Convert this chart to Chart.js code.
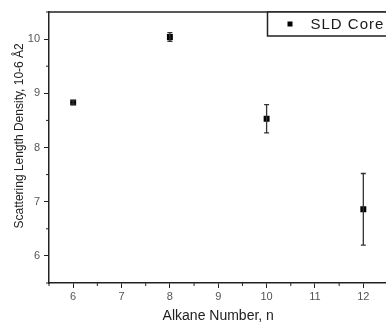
<!DOCTYPE html>
<html>
<head>
  <meta charset="UTF-8">
  <title>SLD Core</title>
  <script src="https://cdn.jsdelivr.net/npm/chart.js"></script>
  <style>
    html, body { margin: 0; padding: 0; background: #fff; overflow: hidden; }
    #wrap { width: 386px; height: 324px; overflow: hidden; }
  </style>
</head>
<body>
  <div id="wrap"><canvas id="chart" width="392" height="324"></canvas></div>

<script>
// data
const alkane = [6, 8, 10, 12];
const sld = [8.83, 10.04, 8.53, 6.86];
const sldErr = [0.03, 0.08, 0.26, 0.66];

const xTicks = [6, 7, 8, 9, 10, 11, 12];
const yTicks = [6, 7, 8, 9, 10];
const xMinor = [5.5, 6.5, 7.5, 8.5, 9.5, 10.5, 11.5];
const yMinor = [5.5, 6.5, 7.5, 8.5, 9.5, 10.5];

const axisColor = '#222';
const labelColor = '#555';

// error bars + minor ticks + top line + legend box
const extras = {
  id: 'extras',
  afterDatasetsDraw(chart) {
    const ctx = chart.ctx;
    const xs = chart.scales.x, ys = chart.scales.y;
    const area = chart.chartArea;
    ctx.save();

    // error bars
    ctx.strokeStyle = '#333';
    ctx.lineWidth = 1.3;
    alkane.forEach((n, i) => {
      const px = xs.getPixelForValue(n);
      const top = ys.getPixelForValue(sld[i] + sldErr[i]);
      const bot = ys.getPixelForValue(sld[i] - sldErr[i]);
      ctx.beginPath();
      ctx.moveTo(px, top); ctx.lineTo(px, bot);
      ctx.moveTo(px - 2.5, top); ctx.lineTo(px + 2.5, top);
      ctx.moveTo(px - 2.5, bot); ctx.lineTo(px + 2.5, bot);
      ctx.stroke();
    });

    // top frame line
    ctx.strokeStyle = axisColor;
    ctx.lineWidth = 1.5;
    ctx.beginPath();
    ctx.moveTo(area.left, area.top);
    ctx.lineTo(area.right + 10, area.top);
    ctx.stroke();

    // minor ticks
    ctx.lineWidth = 1;
    ctx.beginPath();
    xMinor.forEach(v => {
      const px = xs.getPixelForValue(v);
      ctx.moveTo(px, area.bottom); ctx.lineTo(px, area.bottom + 3);
    });
    yMinor.forEach(v => {
      const py = ys.getPixelForValue(v);
      ctx.moveTo(area.left, py); ctx.lineTo(area.left - 3, py);
    });
    ctx.stroke();

    // legend
    const bx = area.right - 120, by = area.top, bh = 24;
    ctx.fillStyle = '#fff';
    ctx.fillRect(bx, by, 140, bh);
    ctx.strokeStyle = axisColor;
    ctx.lineWidth = 1.5;
    ctx.strokeRect(bx, by, 140, bh);
    ctx.fillStyle = '#000';
    ctx.fillRect(bx + 20, by + bh / 2 - 2.5, 5, 5);
    ctx.fillStyle = '#1a1a1a';
    ctx.font = '15px "Liberation Sans", Arial, sans-serif';
    ctx.letterSpacing = '1px';
    ctx.textBaseline = 'middle';
    ctx.fillText(chart.data.datasets[0].label, bx + 43, by + bh / 2 + 1);

    ctx.restore();
  }
};

new Chart(document.getElementById('chart'), {
  type: 'scatter',
  data: {
    datasets: [{
      label: 'SLD Core',
      data: alkane.map((n, i) => ({ x: n, y: sld[i] })),
      pointStyle: 'rect',
      pointRadius: 4.2,
      backgroundColor: '#000',
      borderColor: '#000',
      borderWidth: 0
    }]
  },
  options: {
    responsive: false,
    animation: false,
    layout: { padding: { top: 12, right: 4.5, left: 0, bottom: 0 } },
    plugins: { legend: { display: false }, tooltip: { enabled: false } },
    scales: {
      x: {
        type: 'linear',
        min: 5.5,
        max: 12.5,
        afterBuildTicks: s => { s.ticks = xTicks.map(v => ({ value: v })); },
        afterFit: s => { s.height = 41; },
        grid: { drawOnChartArea: false, drawTicks: true, tickLength: 5, color: axisColor, tickWidth: 1 },
        border: { display: true, color: axisColor, width: 1.5 },
        ticks: {
          color: labelColor,
          padding: 2,
          font: { family: '"Liberation Sans", Arial, sans-serif', size: 11 }
        },
        title: {
          display: true,
          text: 'Alkane Number, n',
          color: '#222',
          padding: { top: 0, bottom: -1 },
          font: { family: '"Liberation Sans", Arial, sans-serif', size: 14 }
        }
      },
      y: {
        type: 'linear',
        min: 5.5,
        max: 10.5,
        afterBuildTicks: s => { s.ticks = yTicks.map(v => ({ value: v })); },
        afterFit: s => { s.width = 49; },
        grid: { drawOnChartArea: false, drawTicks: true, tickLength: 5, color: axisColor, tickWidth: 1 },
        border: { display: true, color: axisColor, width: 1.5 },
        ticks: {
          color: labelColor,
          padding: 4,
          font: { family: '"Liberation Sans", Arial, sans-serif', size: 11 }
        },
        title: {
          display: true,
          // leading spaces push the label up, as in the original
          text: '       Scattering Length Density, 10-6 Å2',
          color: '#222',
          padding: { top: 12, bottom: 0 },
          font: { family: '"Liberation Sans", Arial, sans-serif', size: 12 }
        }
      }
    }
  },
  plugins: [extras]
});
</script>
</body>
</html>
